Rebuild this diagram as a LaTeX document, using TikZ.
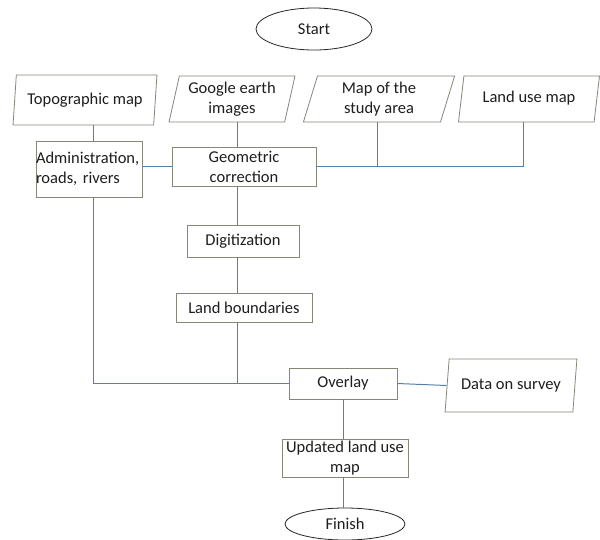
\documentclass[tikz,border=0pt]{standalone}
\usepackage{fontspec}
\setmainfont{Carlito}
\usetikzlibrary{shapes.geometric}
\definecolor{conn}{HTML}{5580AA}
\definecolor{boxc}{HTML}{85877A}
\definecolor{txt}{HTML}{1E1E1E}
\begin{document}
\begin{tikzpicture}[x=1pt,y=-1pt,
  every node/.style={font=\fontsize{16.5}{20}\selectfont, text=txt, inner sep=0pt},
  box/.style={draw=boxc, line width=0.8pt, fill=white, align=center},
  para/.style={trapezium, trapezium stretches=true, trapezium left angle=76, trapezium right angle=104, draw=boxc, line width=0.8pt, fill=white, align=center},
  term/.style={ellipse, draw=black!85, line width=0.8pt},
  link/.style={draw=conn, line width=1pt}]
\useasboundingbox (0,0) rectangle (600,539);

\node[term, minimum width=116pt, minimum height=42pt] (start) at (314,29) {Start};
\node[para, trapezium left angle=79, trapezium right angle=101, minimum width=144pt, minimum height=50pt] (topo) at (85,100) {Topographic map};
\node[para, minimum width=126pt, minimum height=46pt] (google) at (232,99) {Google earth\\images};
\node[para, minimum width=152pt, minimum height=46pt] (study) at (379,99) {Map of the\\study area};
\node[para, minimum width=142pt, minimum height=46pt] (landuse) at (529,99) {\raisebox{4pt}{Land use map}};
\node[box, minimum width=106pt, minimum height=56pt, text width=106pt, align=left] (admin) at (89,169) {Administration,\\roads, rivers};
\node[box, minimum width=144pt, minimum height=39pt] (geo) at (244,166.5) {Geometric\\correction};
\node[box, minimum width=112pt, minimum height=32pt] (digit) at (243,241) {Digitization};
\node[box, minimum width=136pt, minimum height=29pt] (lb) at (244,307.5) {Land boundaries};
\node[box, minimum width=108pt, minimum height=31pt] (overlay) at (343,383.5) {Overlay};
\node[para, minimum width=132pt, minimum height=53pt] (data) at (511,385.5) {\raisebox{2pt}{Data on survey}};
\node[box, minimum width=126pt, minimum height=38pt] (upd) at (345,458) {Updated land use\\map};
\node[term, minimum width=120pt, minimum height=32pt] (finish) at (345,524) {Finish};

\coordinate (sp) at (237,0);
\coordinate (j1) at (377,0);
\coordinate (j2) at (523,0);

\draw[link] ([xshift=4pt]admin.north) -- ([xshift=4pt]admin.north |- topo.south);
\draw[link] (geo.north -| sp) -- (google.south -| sp);
\draw[link] (geo.west) -- (geo.west -| admin.east);
\draw[link] (geo.east) -- (geo.east -| j2) -- (landuse.south -| j2);
\draw[link] (geo.east -| j1) -- (study.south -| j1);
\draw[link] (geo.south -| sp) -- (digit.north -| sp);
\draw[link] (digit.south -| sp) -- (lb.north -| sp);
\draw[link] (lb.south -| sp) -- (overlay.west -| sp);
\draw[link] ([xshift=4pt]admin.south) |- (overlay.west);
\draw[link] (overlay.east) -- (data.west);
\draw[link] (overlay.south) -- (upd.north -| overlay.south);
\draw[link] (upd.south -| overlay.south) -- (finish.north -| overlay.south);
\end{tikzpicture}
\end{document}
